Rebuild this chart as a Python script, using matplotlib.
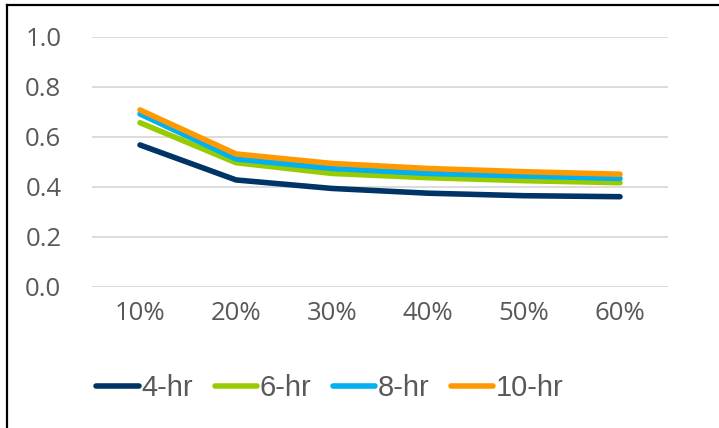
import matplotlib
matplotlib.use("Agg")
import matplotlib.pyplot as plt
from matplotlib.lines import Line2D

categories = ["10%", "20%", "30%", "40%", "50%", "60%"]
series_names = ["4-hr", "6-hr", "8-hr", "10-hr"]
hr4 = [0.567, 0.427, 0.393, 0.374, 0.364, 0.360]
hr6 = [0.656, 0.496, 0.453, 0.436, 0.424, 0.416]
hr8 = [0.691, 0.511, 0.473, 0.453, 0.443, 0.433]
hr10 = [0.707, 0.531, 0.493, 0.473, 0.460, 0.450]
yticks = [0.0, 0.2, 0.4, 0.6, 0.8, 1.0]
colors = ["#003366", "#99CC00", "#00B0F0", "#FF9900"]

W, H = 719, 428
fig = plt.figure(figsize=(W / 100, H / 100), dpi=100)
ax = fig.add_axes([92 / W, 1 - 286.7 / H, 576 / W, 250 / H])

x = list(range(len(categories)))
for vals, name, c in zip([hr4, hr6, hr8, hr10], series_names, colors):
    ax.plot(x, vals, color=c, lw=4.0, solid_capstyle="round", solid_joinstyle="round", label=name, zorder=3)

ax.set_xlim(-0.5, len(categories) - 0.5)
ax.set_ylim(0, 1.0)
ax.set_yticks(yticks)
ax.set_yticklabels([f"{v:.1f}" for v in yticks])
ax.set_xticks(x)
ax.set_xticklabels(categories)
for lab in ax.get_yticklabels() + ax.get_xticklabels():
    lab.set_fontfamily("Open Sans")
    lab.set_fontsize(18.5)
    lab.set_color("#595959")
ax.tick_params(axis="both", length=0)
ax.tick_params(axis="y", pad=22)
ax.tick_params(axis="x", pad=10)
ax.grid(axis="y", color="#D9D9D9", lw=1.3, zorder=0)
for s in ax.spines.values():
    s.set_visible(False)

handles = [Line2D([], [], color=c, lw=4.0, solid_capstyle="round") for c in colors]
leg = fig.legend(handles, series_names, loc="center", bbox_to_anchor=(330 / W, 1 - 388 / H),
                 ncol=4, frameon=False, prop={"family": "Liberation Sans", "size": 21},
                 handlelength=1.45, handletextpad=0.08, columnspacing=0.75, borderaxespad=0)
for t in leg.get_texts():
    t.set_color("#595959")

# outer frame (left and top edges visible)
fig.add_artist(Line2D([7 / W, 7 / W], [0, 1 - 5 / H], color="black", lw=1.6, transform=fig.transFigure))
fig.add_artist(Line2D([7 / W, 1], [1 - 5 / H, 1 - 5 / H], color="black", lw=1.6, transform=fig.transFigure))

fig.savefig("out.png", dpi=100)
